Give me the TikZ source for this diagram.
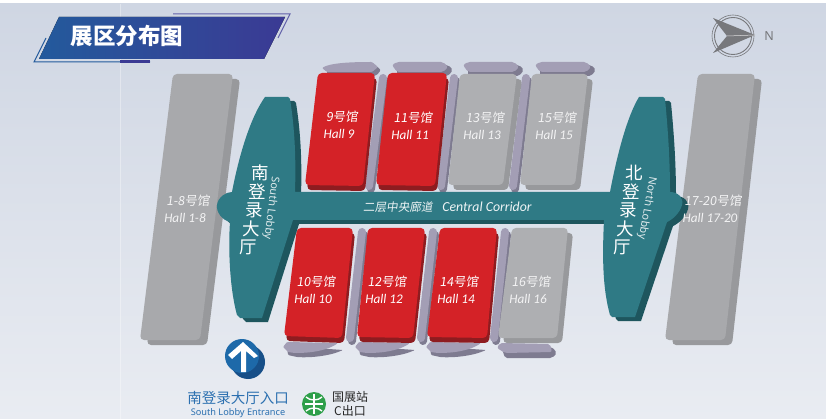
\documentclass[tikz,border=0pt]{standalone}
\usepackage{fontspec}
\setmainfont{Noto Sans}
\newfontfamily\cjkfont{Noto Sans CJK SC}
\newfontfamily\cjkslant[FakeSlant=0.14]{Noto Sans CJK SC}
\newfontfamily\hallfont[ItalicFont=Carlito Italic]{Carlito}
\usetikzlibrary{positioning, calc}

\definecolor{bgtop}{HTML}{CFD6E3}
\definecolor{bgbottom}{HTML}{E9ECF2}
\definecolor{bannerleft}{HTML}{235A9C}
\definecolor{bannerright}{HTML}{3B3A94}
\definecolor{hallred}{HTML}{D42227}
\definecolor{hallreddark}{HTML}{8E1C20}
\definecolor{hallgrey}{HTML}{AEAFB2}
\definecolor{hallgreydark}{HTML}{98999C}
\definecolor{longgrey}{HTML}{A8A9AC}
\definecolor{stripfront}{HTML}{A39EB5}
\definecolor{stripdark}{HTML}{7E7B90}
\definecolor{lobbyteal}{HTML}{2F7A85}
\definecolor{lobbydark}{HTML}{1E565E}
\definecolor{arrowblue}{HTML}{1D69A9}
\definecolor{arrowdark}{HTML}{174F88}
\definecolor{textblue}{HTML}{2C70B0}
\definecolor{metrogreen}{HTML}{2E9F4A}
\definecolor{compassgrey}{HTML}{77787C}

\tikzset{
  hallname/.style={font=\cjkslant\fontsize{12.5}{14}\selectfont, inner sep=0pt},
  hallnum/.style={font=\hallfont\itshape\fontsize{13.2}{15}\selectfont, inner sep=0pt},
  lobbychar/.style={font=\cjkfont\fontsize{17.5}{19}\selectfont, text=white, inner sep=0pt},
  lobbyname/.style={font=\fontsize{10.8}{12}\selectfont, text=white!85!lobbyteal, inner sep=0pt},
}

% one hall: front colour, side colour, side offset, four corners
\newcommand{\hallblock}[7]{
  \fill[#2, rounded corners=4pt, shift={(#3)}] (#4) -- (#5) -- (#6) -- (#7) -- cycle;
  \fill[#1, rounded corners=4pt] (#4) -- (#5) -- (#6) -- (#7) -- cycle;
}
% the two lines printed on a hall
\newcommand{\halllabel}[6]{
  \node[hallname, text=#6] (name#1) at (#2,#3) {#4};
  \node[hallnum, text=#6] (num#1) at (#2-3,#3+16.5) {#5};
}
% purple passage between two halls
\newcommand{\passage}[2]{
  \draw[stripdark, line width=8pt, line cap=round, shift={(2,3)}] (#1) -- (#2);
  \draw[stripfront, line width=8pt, line cap=round] (#1) -- (#2);
}
\newcommand{\lobbyshape}{
  (265,97) -- (288,97) -- (290,99) .. controls (295,130) and (296,160) .. (295,192)
  -- (610,192) .. controls (618,150) and (628,115) .. (639,97)
  -- (663,97) -- (665,99) .. controls (668,130) and (670,160) .. (670,192)
  .. controls (678,192) and (684,198) .. (682,205)
  .. controls (680,213) and (672,220) .. (667,222)
  -- (635,317) -- (612,317) -- (610,315) .. controls (603,290) and (602,260) .. (604,220)
  -- (293,220) -- (262,318) -- (240,318) -- (237,315)
  .. controls (230,290) and (228,250) .. (230,222)
  .. controls (222,220) and (216,212) .. (217,205)
  .. controls (218,197) and (226,192) .. (232,192)
  .. controls (240,150) and (252,115) .. (265,97) -- cycle
}

\begin{document}
\begin{tikzpicture}[x=1pt, y=-1pt]
  \useasboundingbox (0,0) rectangle (826,419);
  % background
  \fill[white] (0,0) rectangle (826,419);
  \shade[top color=bgtop, bottom color=bgbottom] (0,4) rectangle (826,419);
  \draw[white, opacity=0.35, line width=0.5pt] (120,4) -- (120,419);

  % title banner
  \fill[left color=bannerleft, right color=bannerright] (59,17) -- (285,17) -- (264,59) -- (39,59) -- cycle;
  \draw[bannerleft, line width=1pt] (46,38) -- (34,62) -- (150,62);
  \draw[bannerright, line width=3pt] (120,62) -- (150,62);
  \draw[bannerright!80!white, line width=1pt] (173,14) -- (290,14) -- (278,38);
  \node[font=\cjkfont\bfseries\fontsize{22.5}{24}\selectfont, text=white, inner sep=0pt] (title) at (127,36) {展区分布图};

  % compass
  \draw[compassgrey, line width=0.6pt] (733,36) circle (21);
  \draw[compassgrey, line width=0.9pt] (733,36) circle (18.5);
  \fill[compassgrey] (755,35) -- (713,18) -- (727,36) -- (713,53) -- cycle;
  \draw[white!75!compassgrey, line width=0.5pt] (727,36) -- (755,35);
  \node[font=\fontsize{12.5}{13}\selectfont, text=compassgrey, inner sep=0pt] (north) at (769,36) {N};

  % long halls
  \hallblock{longgrey}{hallgreydark}{7,5}{173,74}{233,74}{200,340}{140,340}
  \hallblock{longgrey}{hallgreydark}{7,5}{698,74}{755,74}{725,340}{665,340}

  % caps above the upper row
  \foreach \dx in {0,71,143} {
    \fill[stripdark, rounded corners=2pt] (397+\dx,65) -- (448+\dx,65) -- (453+\dx,70) -- (448+\dx,76) -- (397+\dx,76) -- cycle;
    \fill[stripfront, rounded corners=2pt] (392+\dx,65) -- (397+\dx,62) -- (443+\dx,62) -- (448+\dx,67) -- (443+\dx,72) -- (397+\dx,72) -- cycle;
  }
  \fill[stripdark, rounded corners=2pt] (327,68) -- (375,65) -- (381,70) -- (376,76) -- (327,76) -- cycle;
  \fill[stripfront, rounded corners=1pt] (322,68) .. controls (330,63) and (350,62) .. (372,62) -- (378,67) -- (372,72) -- (327,72) -- cycle;

  % caps below the lower row
  \foreach \dx in {0,72,143} {
    \fill[stripdark, rounded corners=1pt] (287+\dx,346) -- (343+\dx,350) .. controls (330+\dx,356) and (310+\dx,358) .. (297+\dx,357) -- (288+\dx,355) -- cycle;
    \fill[stripfront, rounded corners=1pt] (287+\dx,342) -- (338+\dx,343) .. controls (330+\dx,349) and (315+\dx,353) .. (295+\dx,353) -- (288+\dx,352) -- (283+\dx,347) -- cycle;
  }
  \fill[stripdark, rounded corners=2pt] (502,349) -- (552,347) -- (557,353) -- (552,358) -- (505,358) -- cycle;
  \fill[stripfront, rounded corners=2pt] (500,343) -- (550,344) -- (552,352) -- (505,353) -- (497,348) -- cycle;

  % passages
  \passage{383,78}{369,186}
  \passage{454,78}{441,186}
  \passage{526,78}{513,186}
  \passage{362,232}{350,338}
  \passage{433,232}{421,338}
  \passage{505,232}{494,338}

  % upper row
  \hallblock{hallred}{hallreddark}{2,5}{318,73}{375,73}{363,186}{305,185}
  \hallblock{hallred}{hallreddark}{2,5}{388,73}{447,73}{435,186}{376,185}
  \hallblock{hallgrey}{hallgreydark}{5,5}{460,74}{517,74}{503,185}{448,185}
  \hallblock{hallgrey}{hallgreydark}{5,5}{532,74}{588,74}{575,185}{520,185}
  % lower row
  \hallblock{hallred}{hallreddark}{2,5}{297,228}{353,228}{342,338}{284,336}
  \hallblock{hallred}{hallreddark}{2,5}{368,228}{425,228}{413,338}{357,337}
  \hallblock{hallred}{hallreddark}{2,5}{440,228}{497,228}{487,338}{427,337}
  \hallblock{hallgrey}{hallgreydark}{5,5}{512,228}{568,228}{557,338}{498,338}

  % lobbies and corridor
  \fill[lobbydark, shift={(6,4)}] \lobbyshape;
  \fill[lobbyteal] \lobbyshape;

  % hall labels
  \halllabel{9}{342}{117}{9号馆}{Hall 9}{white}
  \halllabel{11}{413}{118}{11号馆}{Hall 11}{white}
  \halllabel{13}{485}{118}{13号馆}{Hall 13}{white!85!hallgrey}
  \halllabel{15}{557}{118}{15号馆}{Hall 15}{white!85!hallgrey}
  \halllabel{10}{316}{282}{10号馆}{Hall 10}{white}
  \halllabel{12}{387}{282}{12号馆}{Hall 12}{white}
  \halllabel{14}{459}{282}{14号馆}{Hall 14}{white}
  \halllabel{16}{531}{282}{16号馆}{Hall 16}{white!85!hallgrey}
  \halllabel{1}{188}{201}{1-8号馆}{Hall 1-8}{white!85!hallgrey}
  \halllabel{17}{713}{201}{17-20号馆}{Hall 17-20}{white!85!hallgrey}

  % corridor label
  \node[font=\cjkslant\fontsize{11.6}{13}\selectfont, text=white!92!lobbyteal, inner sep=0pt] (corridorcn) at (398,207) {二层中央廊道};
  \node[font=\hallfont\itshape\fontsize{13.8}{15}\selectfont, text=white!92!lobbyteal, inner sep=0pt] (corridoren) at (487,207) {Central Corridor};

  % lobby labels
  \foreach \ch [count=\i from 0] in {南,登,录,大,厅}
    \node[lobbychar] (south\i) at (260-3*\i,173+18.5*\i) {\ch};
  \foreach \ch [count=\i from 0] in {北,登,录,大,厅}
    \node[lobbychar] (north\i) at (634-3*\i,173+18.5*\i) {\ch};
  \node[lobbyname, rotate=-97] (southlobby) at (271,208) {South Lobby};
  \node[lobbyname, rotate=-100] (northlobby) at (647,208) {North Lobby};

  % entrance arrow
  \fill[arrowdark] (248,362) circle (17);
  \fill[arrowblue] (242,356) circle (17);
  \fill[white] (243,342) -- (258,356) -- (254,358) -- (246,351) -- (246,372) -- (241,372) -- (241,351) -- (232,359) -- (228,355) -- cycle;

  % entrance label
  \node[font=\cjkfont\fontsize{14.5}{16}\selectfont, text=textblue, inner sep=0pt] (entrancecn) at (238,398) {南登录大厅入口};
  \node[font=\fontsize{9.2}{10}\selectfont, text=textblue, inner sep=0pt] (entranceen) at (238,413) {South Lobby Entrance};

  % metro exit
  \fill[metrogreen] (314,404) circle (12);
  \draw[white, line width=1.6pt] (314,394) -- (314,414) (305,404) -- (323,404);
  \draw[white, line width=1.4pt] (306,397) .. controls (310,401) and (318,401) .. (322,397)
    (306,411) .. controls (310,407) and (318,407) .. (322,411);
  \node[font=\cjkfont\fontsize{12}{13}\selectfont, text=black!85, inner sep=0pt] (exitname) at (350,397) {国展站};
  \node[font=\cjkfont\fontsize{12}{13}\selectfont, text=black!85, inner sep=0pt] (exitcode) at (350,411) {C出口};
\end{tikzpicture}
\end{document}
